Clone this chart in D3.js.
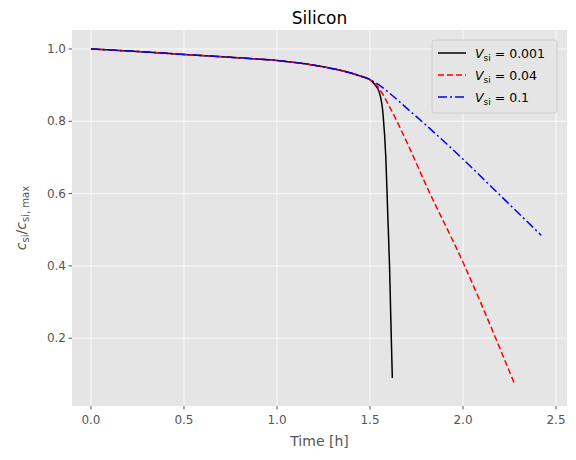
<!DOCTYPE html>
<html><head><meta charset="utf-8">
<script src="https://cdn.jsdelivr.net/npm/d3@7"></script>
<style>body{margin:0;background:#fff;font-family:"DejaVu Sans",sans-serif}</style>
</head><body><svg id="c" width="576" height="460"></svg>
<script>
const common = [[0,1.0],[0.25,0.993],[0.5,0.985],[0.75,0.977],[1.0,0.968],[1.2,0.955],[1.35,0.94],[1.45,0.925],[1.5,0.915]];
const black = [[1.52,0.905],[1.55,0.88],[1.57,0.82],[1.585,0.7],[1.595,0.55],[1.605,0.4],[1.612,0.25],[1.62,0.09]];
const red = [[1.55,0.89],[1.6,0.845],[1.7,0.74],[1.8,0.625],[2.0,0.41],[2.2,0.17],[2.28,0.07]];
const blue = [[1.55,0.9],[1.6,0.88],[1.7,0.835],[1.8,0.79],[2.0,0.695],[2.2,0.595],[2.42,0.485]];
const xTicks = [0,0.5,1,1.5,2,2.5];
const yTicks = [0.2,0.4,0.6,0.8,1.0];
const series = [
  {name:"0.001", pts: common.concat(black), color:"#000", dash:null},
  {name:"0.04", pts: common.concat(red), color:"red", dash:"6,3"},
  {name:"0.1", pts: common.concat(blue), color:"blue", dash:"9,3,2,3"}
];

const svg = d3.select("#c");
const L=72,R=567,T=30,B=406;
const x = d3.scaleLinear().domain([-0.102,2.559]).range([L,R]);
const y = d3.scaleLinear().domain([0.0125,1.0525]).range([B,T]);
svg.append("rect").attr("x",L).attr("y",T).attr("width",R-L).attr("height",B-T).attr("fill","#e5e5e5");
const g = svg.append("g");
xTicks.forEach(t=>g.append("line").attr("x1",x(t)).attr("x2",x(t)).attr("y1",T).attr("y2",B).attr("stroke","#fff").attr("stroke-width",0.8));
yTicks.forEach(t=>g.append("line").attr("y1",y(t)).attr("y2",y(t)).attr("x1",L).attr("x2",R).attr("stroke","#fff").attr("stroke-width",0.8));
xTicks.forEach(t=>{
  g.append("line").attr("x1",x(t)).attr("x2",x(t)).attr("y1",B).attr("y2",B+3.5).attr("stroke","#555");
  g.append("text").attr("x",x(t)).attr("y",B+18).attr("text-anchor","middle").attr("font-size",12).attr("fill","#555").text(t.toFixed(1));
});
yTicks.forEach(t=>{
  g.append("line").attr("x1",L-3.5).attr("x2",L).attr("y1",y(t)).attr("y2",y(t)).attr("stroke","#555");
  g.append("text").attr("x",L-6).attr("y",y(t)+4).attr("text-anchor","end").attr("font-size",12).attr("fill","#555").text(t.toFixed(1));
});
const line = d3.line().x(d=>x(d[0])).y(d=>y(d[1])).curve(d3.curveMonotoneX);
series.forEach(s=>svg.append("path").attr("d",line(s.pts)).attr("fill","none").attr("stroke",s.color).attr("stroke-width",1.5).attr("stroke-dasharray",s.dash));
svg.append("text").attr("x",(L+R)/2).attr("y",24).attr("text-anchor","middle").attr("font-size",17).text("Silicon");
svg.append("text").attr("x",(L+R)/2).attr("y",446).attr("text-anchor","middle").attr("font-size",14).attr("fill","#555").text("Time [h]");
const yl = svg.append("text").attr("transform","translate(26,218) rotate(-90)").attr("text-anchor","middle").attr("font-size",14).attr("fill","#555");
yl.append("tspan").attr("font-style","italic").text("c");
yl.append("tspan").attr("font-size",10).attr("dy",3).text("si");
yl.append("tspan").attr("dy",-3).text("/");
yl.append("tspan").attr("font-style","italic").text("c");
yl.append("tspan").attr("font-size",10).attr("dy",3).text("si, max");
// legend
const lg = svg.append("g").attr("transform","translate(432,40)");
lg.append("rect").attr("width",125).attr("height",73).attr("rx",3).attr("fill","#e5e5e5").attr("stroke","#ccc").attr("opacity",0.9);
series.forEach((s,i)=>{
  const yy = 13+i*22;
  lg.append("line").attr("x1",6).attr("x2",34).attr("y1",yy).attr("y2",yy).attr("stroke",s.color).attr("stroke-width",1.5).attr("stroke-dasharray",s.dash);
  const t = lg.append("text").attr("x",43).attr("y",yy+4.5).attr("font-size",12.5);
  t.append("tspan").attr("font-style","italic").text("V");
  t.append("tspan").attr("font-size",9).attr("dy",3).text("si");
  t.append("tspan").attr("dy",-3).text(" = "+s.name);
});
</script></body></html>
